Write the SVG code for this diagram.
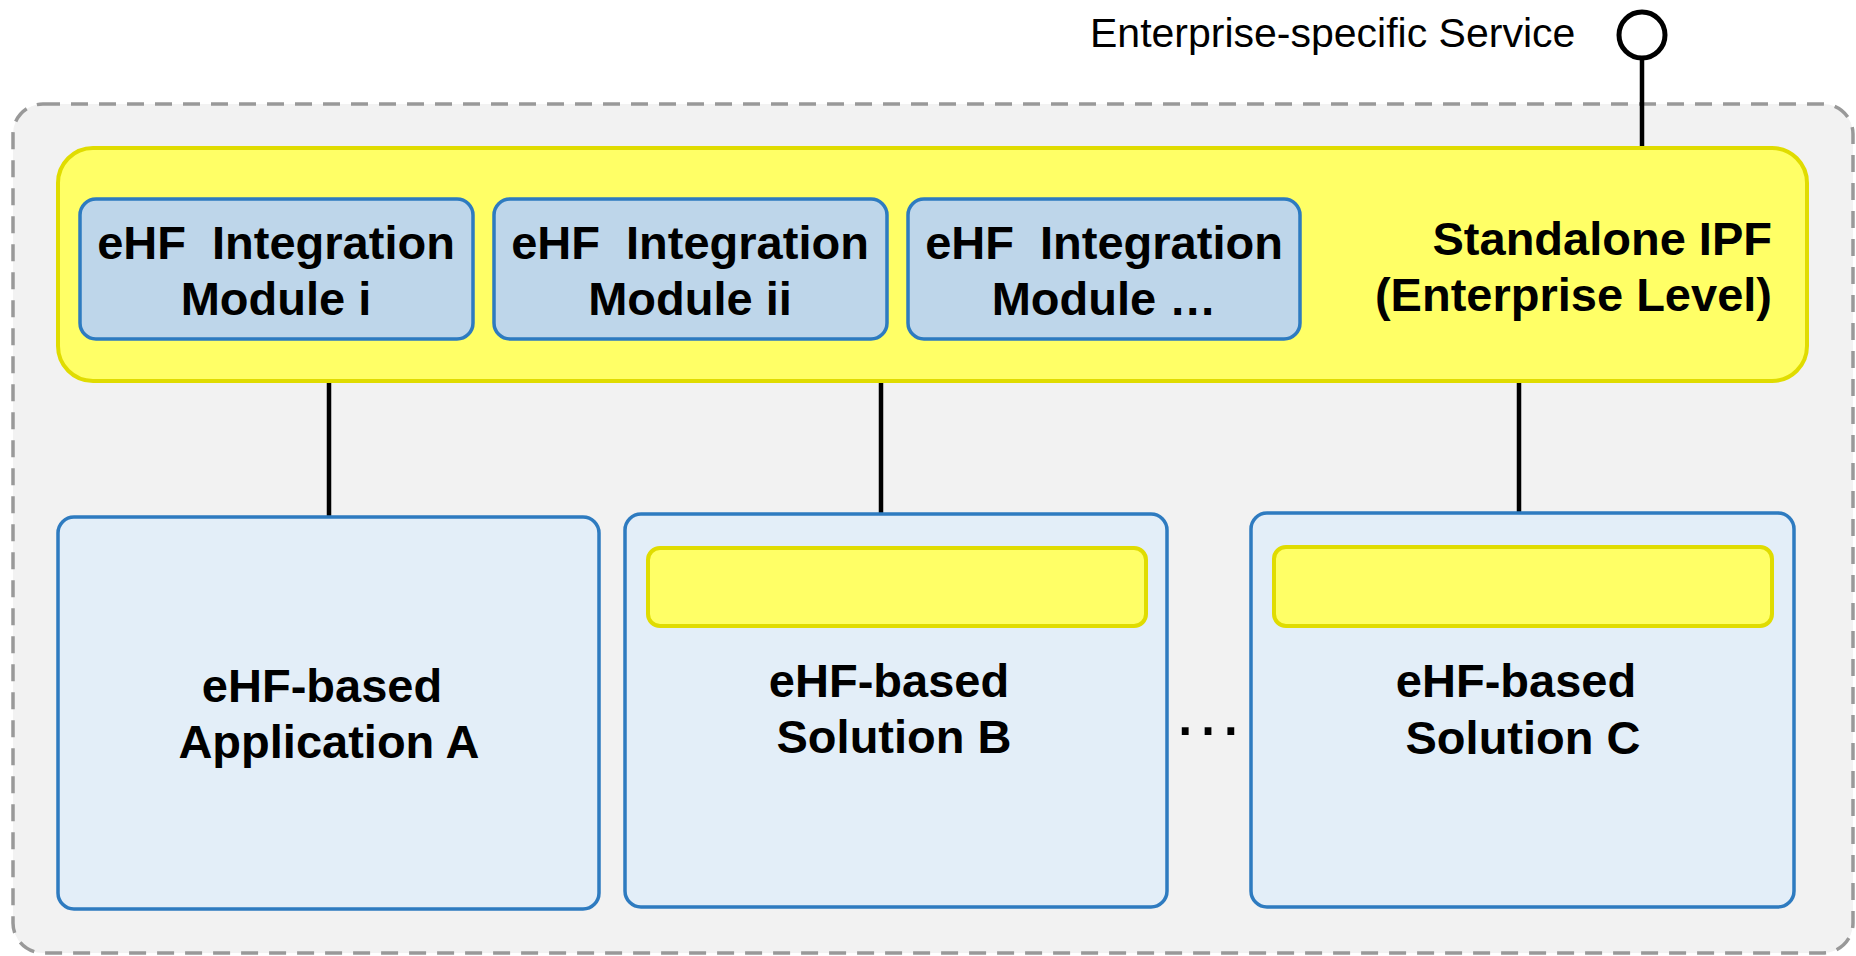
<svg xmlns="http://www.w3.org/2000/svg" width="1856" height="956" viewBox="0 0 1856 956">
<style>
.bold{font-family:"Liberation Sans",Arial,sans-serif;font-weight:bold;font-size:47px;fill:#000}
.reg{font-family:"Liberation Sans",Arial,sans-serif;font-size:41px;fill:#000}
.yellow{fill:#ffff66;stroke:#e0dc00;stroke-width:4}
.module{fill:#bed6ea;stroke:#2e7bc0;stroke-width:3.5}
.app{fill:#e3eef8;stroke:#2e7bc0;stroke-width:3.5}
.conn{stroke:#000;stroke-width:4.5;fill:none}
</style>
<rect width="1856" height="956" fill="#ffffff"/>
<g id="enterprise-boundary">
<rect x="13" y="104" width="1840" height="849" rx="30" fill="#f2f2f2" stroke="#999999" stroke-width="3.5" stroke-dasharray="17 11"/>
</g>
<g id="connectors">
<line class="conn" x1="1642" y1="60" x2="1642" y2="148"/>
<line class="conn" x1="329" y1="381" x2="329" y2="517"/>
<line class="conn" x1="881" y1="381" x2="881" y2="514"/>
<line class="conn" x1="1519" y1="381" x2="1519" y2="513"/>
</g>
<g id="service-interface">
<circle cx="1642" cy="35" r="23" fill="#ffffff" stroke="#000" stroke-width="5"/>
<text class="reg" x="1090" y="47">Enterprise-specific Service</text>
</g>
<g id="standalone-ipf">
<rect class="yellow" x="58" y="148" width="1749" height="233" rx="35"/>
<text class="bold" text-anchor="end" x="1772" y="255">Standalone IPF</text>
<text class="bold" text-anchor="end" x="1772" y="311">(Enterprise Level)</text>
</g>
<g id="module-i">
<rect class="module" x="80" y="199" width="393" height="140" rx="16"/>
<text class="bold" text-anchor="middle" x="276" y="259">eHF&#160; Integration</text>
<text class="bold" text-anchor="middle" x="276" y="315">Module i</text>
</g>
<g id="module-ii">
<rect class="module" x="494" y="199" width="393" height="140" rx="16"/>
<text class="bold" text-anchor="middle" x="690" y="259">eHF&#160; Integration</text>
<text class="bold" text-anchor="middle" x="690" y="315">Module ii</text>
</g>
<g id="module-more">
<rect class="module" x="908" y="199" width="392" height="140" rx="16"/>
<text class="bold" text-anchor="middle" x="1104" y="259">eHF&#160; Integration</text>
<text class="bold" text-anchor="middle" x="1104" y="315">Module …</text>
</g>
<g id="application-a">
<rect class="app" x="58" y="517" width="541" height="392" rx="16"/>
<text class="bold" text-anchor="middle" x="322" y="702">eHF-based</text>
<text class="bold" text-anchor="middle" x="329" y="758">Application A</text>
</g>
<g id="solution-b">
<rect class="app" x="625" y="514" width="542" height="393" rx="16"/>
<rect class="yellow" x="648" y="548" width="498" height="78" rx="12"/>
<text class="bold" text-anchor="middle" x="889" y="697">eHF-based</text>
<text class="bold" text-anchor="middle" x="894" y="753">Solution B</text>
</g>
<g id="ellipsis">
<text class="reg" style="font-size:72px" text-anchor="middle" x="1208" y="735">…</text>
</g>
<g id="solution-c">
<rect class="app" x="1251" y="513" width="543" height="394" rx="16"/>
<rect class="yellow" x="1274" y="547" width="498" height="79" rx="12"/>
<text class="bold" text-anchor="middle" x="1516" y="697">eHF-based</text>
<text class="bold" text-anchor="middle" x="1523" y="754">Solution C</text>
</g>
</svg>
